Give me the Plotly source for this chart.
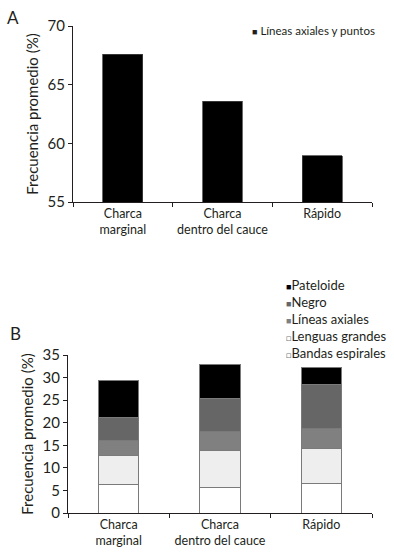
import plotly.graph_objects as go

# ---------------- data ----------------
categories = ["Charca<br>marginal", "Charca<br>dentro del cauce", "Rápido"]

# Panel A
serie_a_name = "Líneas axiales y puntos"
serie_a_values = [67.6, 63.6, 58.95]

# Panel B (stacked, bottom to top)
serie_b_names = ["Bandas espirales", "Lenguas grandes", "Líneas axiales", "Negro", "Pateloide"]
bandas_espirales = [6.35, 5.7, 6.55]
lenguas_grandes = [6.35, 8.25, 7.75]
lineas_axiales = [3.45, 4.0, 4.5]
negro = [5.1, 7.4, 9.75]
pateloide = [8.05, 7.65, 3.65]
serie_b_values = [bandas_espirales, lenguas_grandes, lineas_axiales, negro, pateloide]

y_ticks_a = [55, 60, 65, 70]
y_ticks_b = [0, 5, 10, 15, 20, 25, 30, 35]

# ---------------- style ----------------
W, H = 394, 553
FONT = "Lato"
TXT = "#231f20"
colors_b = ["#ffffff", "#eeeeee", "#808080", "#666666", "#000000"]
legend_glyph_b = ["□", "□", "■", "■", "■"]
legend_glyph_color_b = ["#777777", "#777777", "#808080", "#666666", "#000000"]


def px_x(x):
    return x / W


def px_y(y):
    return 1 - y / H


fig = go.Figure()

fig.add_trace(go.Bar(
    x=categories, y=serie_a_values, name=serie_a_name,
    marker=dict(color="#000000", line=dict(color="#444444", width=0.8)),
    width=0.4, xaxis="x", yaxis="y", showlegend=False,
))

for name, vals, col in zip(serie_b_names, serie_b_values, colors_b):
    fig.add_trace(go.Bar(
        x=categories, y=vals, name=name,
        marker=dict(color=col, line=dict(color="#7a7a7a", width=1)),
        width=0.4, xaxis="x2", yaxis="y2", showlegend=False,
    ))

axis_common = dict(
    showline=True, linecolor="#231f20", linewidth=1,
    showgrid=False, zeroline=False, automargin=False,
    ticks="outside", ticklen=4, tickcolor="#231f20", tickwidth=1,
    tickfont=dict(family=FONT, size=15, color=TXT),
)
xaxis_common = dict(axis_common, tickson="boundaries", range=[-0.5, 2.5],
                    tickangle=0,
                    tickfont=dict(family=FONT, size=12.5, color=TXT))

fig.update_layout(
    template="none",
    width=W, height=H,
    margin=dict(l=0, r=0, t=0, b=0, pad=0),
    paper_bgcolor="white", plot_bgcolor="white",
    barmode="stack",
    font=dict(family=FONT, color=TXT),
    xaxis=dict(xaxis_common, domain=[px_x(73), px_x(372)], anchor="y"),
    yaxis=dict(axis_common, domain=[px_y(202), px_y(26)], anchor="x",
               range=[55, 70], tickvals=y_ticks_a,
               title=dict(text="Frecuencia promedio (%)", standoff=5,
                          font=dict(family=FONT, size=15, color=TXT))),
    xaxis2=dict(xaxis_common, domain=[px_x(68), px_x(372)], anchor="y2"),
    yaxis2=dict(axis_common, domain=[px_y(513), px_y(355)], anchor="x2",
                range=[0, 35], tickvals=y_ticks_b,
                title=dict(text="Frecuencia promedio (%)", standoff=5,
                           font=dict(family=FONT, size=15, color=TXT))),
)

annotations = [
    dict(text="A", x=px_x(13), y=px_y(17), xref="paper", yref="paper",
         xanchor="center", yanchor="middle",
         showarrow=False, font=dict(family=FONT, size=17, color=TXT)),
    dict(text="B", x=px_x(16), y=px_y(333), xref="paper", yref="paper",
         xanchor="center", yanchor="middle",
         showarrow=False, font=dict(family=FONT, size=17, color=TXT)),
    dict(text="<span style='font-size:9px'>■</span> " + serie_a_name,
         x=px_x(250), y=px_y(31), xref="paper", yref="paper",
         xanchor="left", yanchor="middle", showarrow=False,
         font=dict(family=FONT, size=11.5, color=TXT)),
]

# legend for panel B (top item = last series)
for i, (name, glyph, gcol) in enumerate(zip(serie_b_names[::-1], legend_glyph_b[::-1],
                                             legend_glyph_color_b[::-1])):
    annotations.append(dict(
        text=f"<span style='font-size:9px;color:{gcol}'>{glyph}</span>{name}",
        x=px_x(284), y=px_y(285 + 17 * i), xref="paper", yref="paper",
        xanchor="left", yanchor="middle", showarrow=False,
        font=dict(family=FONT, size=13, color=TXT),
    ))

fig.update_layout(annotations=annotations)

fig.write_html("out.html",
               config={"displayModeBar": False},
               post_script="document.body.style.margin='0';"
                           "document.body.style.overflow='hidden';")
